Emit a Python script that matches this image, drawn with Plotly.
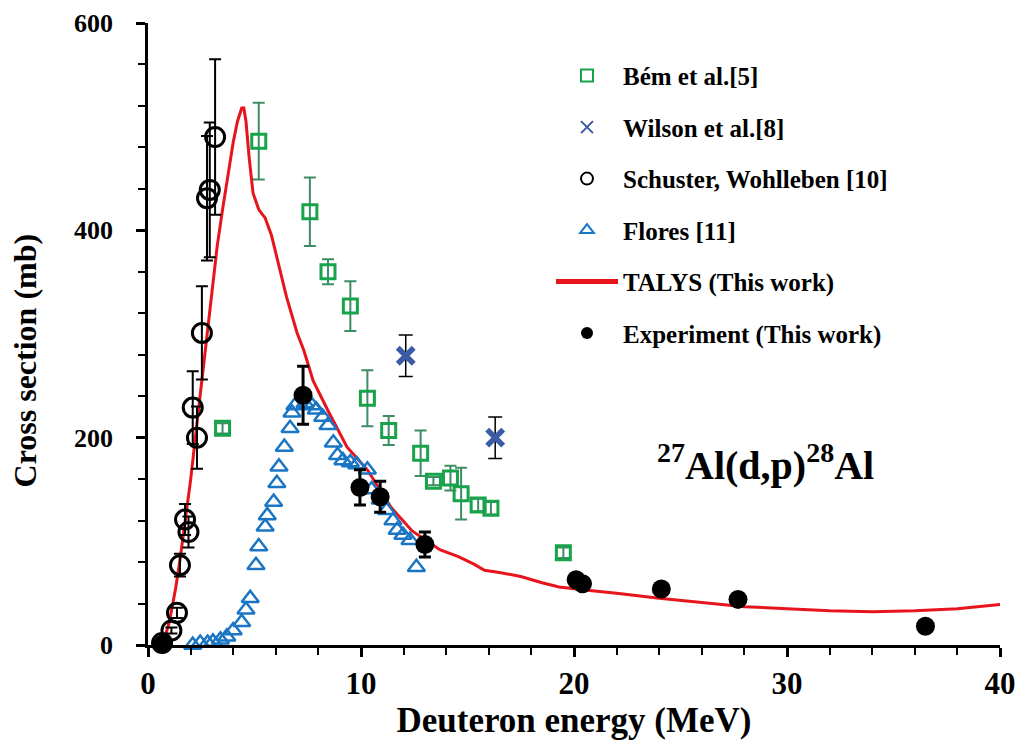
import plotly.graph_objects as go

# ---------------- data ----------------
talys_e = [0.55, 0.8, 1.0, 1.3, 1.5, 1.75, 2.0, 2.25, 2.5, 2.75, 3.0, 3.25, 3.5, 3.75, 4.0, 4.2,
           4.4, 4.5, 4.6, 4.75, 4.93, 5.2, 5.5, 5.8, 6.1, 6.5, 7.0, 7.3, 7.5, 7.75, 8.5, 9.34,
           10.3, 11.4, 12.4, 12.9, 13.7, 14.6, 15.3, 15.8, 16.5, 17.5, 18.5, 19.3, 20.5, 22,
           24, 26, 28, 30, 32, 34, 36, 38, 40]
talys_s = [0, 8, 22, 55, 82, 120, 159, 205, 250, 295, 340, 385, 420, 455, 485, 505,
           518, 518, 505, 470, 436, 420, 412, 395, 370, 336, 301, 285, 272, 255, 224, 191,
           169, 133, 110, 103, 92, 85, 78, 72, 70, 66, 60, 56, 53, 50,
           45, 41, 37, 35, 33, 32, 33, 35, 39]

bem_e = [3.5, 5.2, 7.6, 8.45, 9.5, 10.3, 11.3, 12.8, 13.4, 14.2, 14.7, 15.5, 16.1, 19.5]
bem_s = [209, 486, 418, 360, 327, 238, 207, 185, 158, 161, 146, 135, 132, 89]
bem_err = [5, 37, 33, 12, 24, 27, 14, 22, 4, 12, 25, 6, 6, 5]

wil_e = [12.1, 16.3]
wil_s = [279, 200]
wil_err = [20, 20]

sch_e = [0.66, 1.1, 1.36, 1.5, 1.74, 1.9, 2.1, 2.3, 2.53, 2.77, 2.9, 3.15]
sch_s = [2, 14, 31, 77, 121, 109, 229, 200, 301, 431, 439, 490]
sch_err = [2, 3, 5, 11, 15, 15, 35, 30, 45, 60, 65, 75]

flo_e = [2.1, 2.45, 2.8, 3.05, 3.4, 3.7, 4.0, 4.4, 4.6, 4.8, 5.07, 5.2, 5.5, 5.6, 5.9, 6.05,
         6.15, 6.4, 6.67, 6.76, 6.9, 7.37, 7.7, 7.9, 8.2, 8.45, 8.7, 8.9, 9.15, 9.5, 9.8,
         10.3, 10.5, 10.9, 11.2, 11.5, 11.7, 11.97, 12.3, 12.6]
flo_s = [0, 2, 2, 3, 5, 8, 14, 22, 34, 45, 77, 95, 114, 125, 138, 156,
         172, 191, 209, 224, 231, 233, 231, 227, 220, 212, 195, 183, 178, 176, 174,
         169, 150, 140, 130, 120, 111, 106, 101, 75]

exp_e = [0.7, 7.28, 9.95, 10.9, 13.0, 20.1, 20.4, 24.1, 27.7, 36.5]
exp_s = [1, 241, 152, 143, 97, 63, 59, 54, 44, 18]
exp_err = [0, 28, 17, 15, 12, 3, 3, 3, 3, 3]

x_ticks = [0, 10, 20, 30, 40]
y_ticks = [0, 200, 400, 600]

FONT = "Liberation Serif"

fig = go.Figure()

fig.add_trace(go.Scatter(
    x=talys_e, y=talys_s, mode="lines", name="TALYS (This work)",
    line=dict(color="#E8141B", width=3), legendgroup="g5", legendrank=5,
    cliponaxis=False))

fig.add_trace(go.Scatter(
    x=bem_e, y=bem_s, mode="markers", name="Bém et al.[5]",
    marker=dict(symbol="square-open", size=14, color="#17A34A", line=dict(width=3, color="#17A34A")),
    error_y=dict(type="data", array=bem_err, color="#3C8C64", thickness=2, width=6),
    legendgroup="g1", legendrank=1, cliponaxis=False))

fig.add_trace(go.Scatter(
    x=wil_e, y=wil_s, mode="markers", name="Wilson et al.[8]",
    marker=dict(symbol="x-thin-open", size=16, color="#3B5BA5", line=dict(width=5.5, color="#3B5BA5")),
    error_y=dict(type="data", array=wil_err, color="black", thickness=1.5, width=7),
    legendgroup="g2", legendrank=2, cliponaxis=False))

fig.add_trace(go.Scatter(
    x=sch_e, y=sch_s, mode="markers", name="Schuster, Wohlleben [10]",
    marker=dict(symbol="circle-open", size=19, color="black", line=dict(width=3, color="black")),
    error_y=dict(type="data", array=sch_err, color="black", thickness=2, width=6),
    legendgroup="g3", legendrank=3, cliponaxis=False))

fig.add_trace(go.Scatter(
    x=flo_e, y=flo_s, mode="markers", name="Flores [11]",
    marker=dict(symbol="triangle-up-open", size=15, color="#1B75C5", line=dict(width=2.5, color="#1B75C5")),
    legendgroup="g4", legendrank=4, cliponaxis=False))

fig.add_trace(go.Scatter(
    x=exp_e, y=exp_s, mode="markers", name="Experiment (This work)",
    marker=dict(symbol="circle", size=19, color="black"),
    error_y=dict(type="data", array=exp_err, color="black", thickness=3, width=6),
    legendgroup="g6", legendrank=6, cliponaxis=False))

fig.add_annotation(
    x=29.0, y=176, xref="x", yref="y", showarrow=False,
    text="<sup>27</sup>Al(d,p)<sup>28</sup>Al",
    font=dict(family=FONT, size=40, color="black", weight="bold"))

# y-axis title (placed as rotated text, slightly below the axis centre as in the reference)
fig.add_annotation(
    x=-0.144, y=0.458, xref="paper", yref="paper", showarrow=False,
    text="Cross section (mb)", textangle=-90, xanchor="center", yanchor="middle",
    font=dict(family=FONT, size=32, color="black", weight="bold"))

axis_common = dict(
    showline=True, linecolor="black", linewidth=2.5, ticks="outside", ticklen=9,
    tickwidth=2.5, tickcolor="black", showgrid=False, zeroline=False, mirror=False,
    automargin=False, ticklabeloverflow="allow")

fig.update_xaxes(
    range=[0, 40], tickvals=x_ticks, ticktext=[str(v) for v in x_ticks],
    minor=dict(dtick=2, ticks="outside", ticklen=7, tickwidth=2, tickcolor="black", showgrid=False),
    tickfont=dict(family=FONT, size=31, color="black", weight="bold"),
    title=dict(text="Deuteron energy (MeV)", standoff=0,
               font=dict(family=FONT, size=35, color="black", weight="bold")),
    **axis_common)

fig.update_yaxes(
    range=[0, 600], tickvals=y_ticks, ticktext=[str(v) for v in y_ticks],
    minor=dict(dtick=40, ticks="outside", ticklen=7, tickwidth=2, tickcolor="black", showgrid=False),
    tickfont=dict(family=FONT, size=26, color="black", weight="bold"),
    ticklabelstandoff=18,
    **axis_common)

fig.update_layout(
    width=1015, height=736,
    margin=dict(l=140, r=23, t=15, b=99),
    paper_bgcolor="white", plot_bgcolor="white",
    font=dict(family=FONT, color="black", weight="bold"),
    showlegend=True,
    legend=dict(x=0.473, y=0.952, xanchor="left", yanchor="top",
                bgcolor="rgba(0,0,0,0)", borderwidth=0,
                font=dict(family=FONT, size=25, color="black", weight="bold"),
                traceorder="grouped", tracegroupgap=16, itemsizing="constant",
                itemwidth=62),
)

fig.write_html("out.html")
